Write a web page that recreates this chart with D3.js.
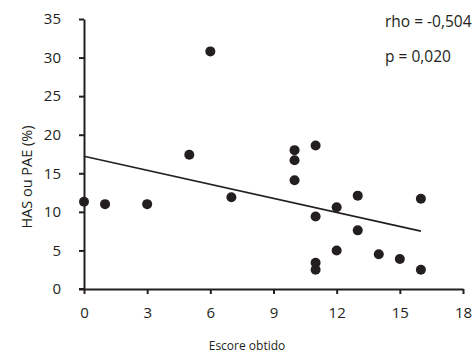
<!DOCTYPE html>
<html>
<head>
<meta charset="utf-8">
<script src="https://cdn.jsdelivr.net/npm/d3@7"></script>
<style>
  html, body { margin: 0; padding: 0; background: #fff; }
  svg { display: block; }
  text { font-family: "Open Sans", "Noto Sans", sans-serif; fill: #231f20; }
</style>
</head>
<body>
<svg id="chart" width="476" height="361"></svg>
<script>
// Data
const scoreX = [0, 1, 3, 5, 6, 7, 10, 10, 10, 11, 11, 11, 11, 12, 12, 13, 13, 14, 15, 16, 16];
const hasY   = [11.3, 11.0, 11.0, 17.4, 30.8, 11.9, 18.0, 16.7, 14.1, 18.6, 9.4, 3.4, 2.5, 10.6, 5.0, 12.1, 7.6, 4.5, 3.9, 11.7, 2.5];
const fitX = [0, 16];
const fitY = [17.2, 7.5];
const xTicks = [0, 3, 6, 9, 12, 15, 18];
const yTicks = [0, 5, 10, 15, 20, 25, 30, 35];
const statLabels = ["rho = -0,504", "p = 0,020"];
const xTitle = "Escore obtido";
const yTitle = "HAS ou PAE (%)";

const svg = d3.select("#chart");
const ink = "#231f20";
const x = d3.scaleLinear().domain([0, 18]).range([84, 463]);
const y = d3.scaleLinear().domain([0, 35]).range([289, 19]);

// axes
const xAxis = svg.append("g").attr("transform", `translate(0,${y(0)})`)
  .call(d3.axisBottom(x).tickValues(xTicks).tickSize(5).tickPadding(13).tickSizeOuter(0));
const yAxis = svg.append("g").attr("transform", `translate(${x(0)},0)`)
  .call(d3.axisLeft(y).tickValues(yTicks).tickSize(5).tickPadding(18).tickSizeOuter(0));
[xAxis, yAxis].forEach(g => {
  g.select(".domain").attr("stroke", ink).attr("stroke-width", 2);
  g.selectAll(".tick line").attr("stroke", ink).attr("stroke-width", 2);
  g.selectAll(".tick text").attr("font-size", 15).attr("fill", ink)
    .attr("font-family", "'Open Sans', sans-serif");
});
// extend x-axis line slightly to the left like the reference
svg.append("line").attr("x1", x(0) - 5).attr("x2", x(0)).attr("y1", y(0)).attr("y2", y(0))
  .attr("stroke", ink).attr("stroke-width", 2);

// regression line
svg.append("line")
  .attr("x1", x(fitX[0])).attr("y1", y(fitY[0]))
  .attr("x2", x(fitX[1])).attr("y2", y(fitY[1]))
  .attr("stroke", ink).attr("stroke-width", 1.6);

// points
svg.append("g").selectAll("circle").data(scoreX.map((d, i) => [d, hasY[i]]))
  .join("circle")
  .attr("cx", d => x(d[0])).attr("cy", d => y(d[1])).attr("r", 5)
  .attr("fill", ink);

// stats
svg.append("text").attr("x", 385).attr("y", 27).attr("font-size", 15.5).text(statLabels[0]);
svg.append("text").attr("x", 385).attr("y", 62).attr("font-size", 15.5).text(statLabels[1]);

// titles
svg.append("text").attr("x", 247).attr("y", 350).attr("text-anchor", "middle")
  .attr("font-size", 12).text(xTitle);
svg.append("text").attr("transform", `translate(32,${177}) rotate(-90)`)
  .attr("text-anchor", "middle").attr("font-size", 14.5).text(yTitle);
</script>
</body>
</html>
